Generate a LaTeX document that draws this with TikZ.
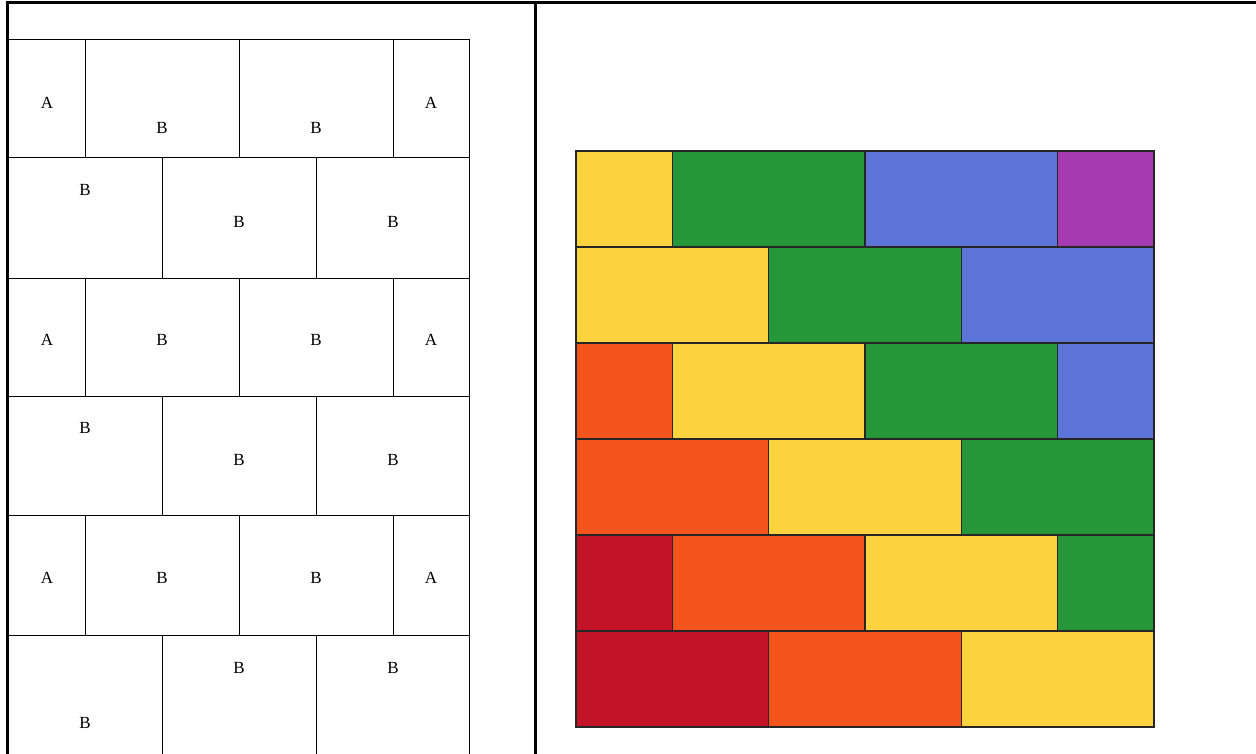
\documentclass[tikz,border=0pt]{standalone}
\usepackage{fontspec}
\setmainfont{Liberation Serif}
\usetikzlibrary{positioning}
\definecolor{quiltYellow}{RGB}{251,211,62}
\definecolor{quiltGreen}{RGB}{38,150,58}
\definecolor{quiltBlue}{RGB}{92,116,214}
\definecolor{quiltPurple}{RGB}{166,58,176}
\definecolor{quiltOrange}{RGB}{244,84,28}
\definecolor{quiltRed}{RGB}{194,20,38}

\begin{document}
\begin{tikzpicture}[x=1pt,y=-1pt,font=\fontsize{17}{20}\selectfont,
  cell/.style={draw,line width=1pt},
  patch/.style={draw=black!85,line width=1.2pt}]
\useasboundingbox (0,0) rectangle (1256,754);

% Frame
\draw[line width=3pt] (7.5,760) -- (7.5,2.5) -- (1256,2.5);
\draw[line width=3pt] (535.5,2.5) -- (535.5,760);

% Rows with half blocks (A B B A)
\foreach \ytop/\ybot/\ya/\yb [count=\i] in {40/158/103/128, 278/396/340/340, 515/635/578/578} {
  \draw[cell] (8,\ytop) rectangle (85,\ybot);
  \draw[cell] (85,\ytop) rectangle (239,\ybot);
  \draw[cell] (239,\ytop) rectangle (393,\ybot);
  \draw[cell] (393,\ytop) rectangle (469,\ybot);
  \node (a\i-1) at (47,\ya) {A};
  \node (a\i-2) at (162,\yb) {B};
  \node (a\i-3) at (316,\yb) {B};
  \node (a\i-4) at (431,\ya) {A};
}

% Rows with full blocks (B B B)
\foreach \ytop/\ybot/\ya/\yb [count=\i] in {158/278/190/222, 396/515/428/460, 635/755/723/668} {
  \draw[cell] (8,\ytop) rectangle (162,\ybot);
  \draw[cell] (162,\ytop) rectangle (316,\ybot);
  \draw[cell] (316,\ytop) rectangle (469,\ybot);
  \node (b\i-1) at (85,\ya) {B};
  \node (b\i-2) at (239,\yb) {B};
  \node (b\i-3) at (393,\yb) {B};
}

% Quilt (column start / width / colour)
\foreach \r/\blocks in {
  0/{0/1/quiltYellow, 1/2/quiltGreen, 3/2/quiltBlue, 5/1/quiltPurple},
  1/{0/2/quiltYellow, 2/2/quiltGreen, 4/2/quiltBlue},
  2/{0/1/quiltOrange, 1/2/quiltYellow, 3/2/quiltGreen, 5/1/quiltBlue},
  3/{0/2/quiltOrange, 2/2/quiltYellow, 4/2/quiltGreen},
  4/{0/1/quiltRed, 1/2/quiltOrange, 3/2/quiltYellow, 5/1/quiltGreen},
  5/{0/2/quiltRed, 2/2/quiltOrange, 4/2/quiltYellow}} {
  \foreach \c/\w/\col in \blocks {
    \draw[patch, fill=\col] ({576+96.33*\c},{151+96*\r}) rectangle ({576+96.33*(\c+\w)},{247+96*\r});
  }
}
\end{tikzpicture}
\end{document}
